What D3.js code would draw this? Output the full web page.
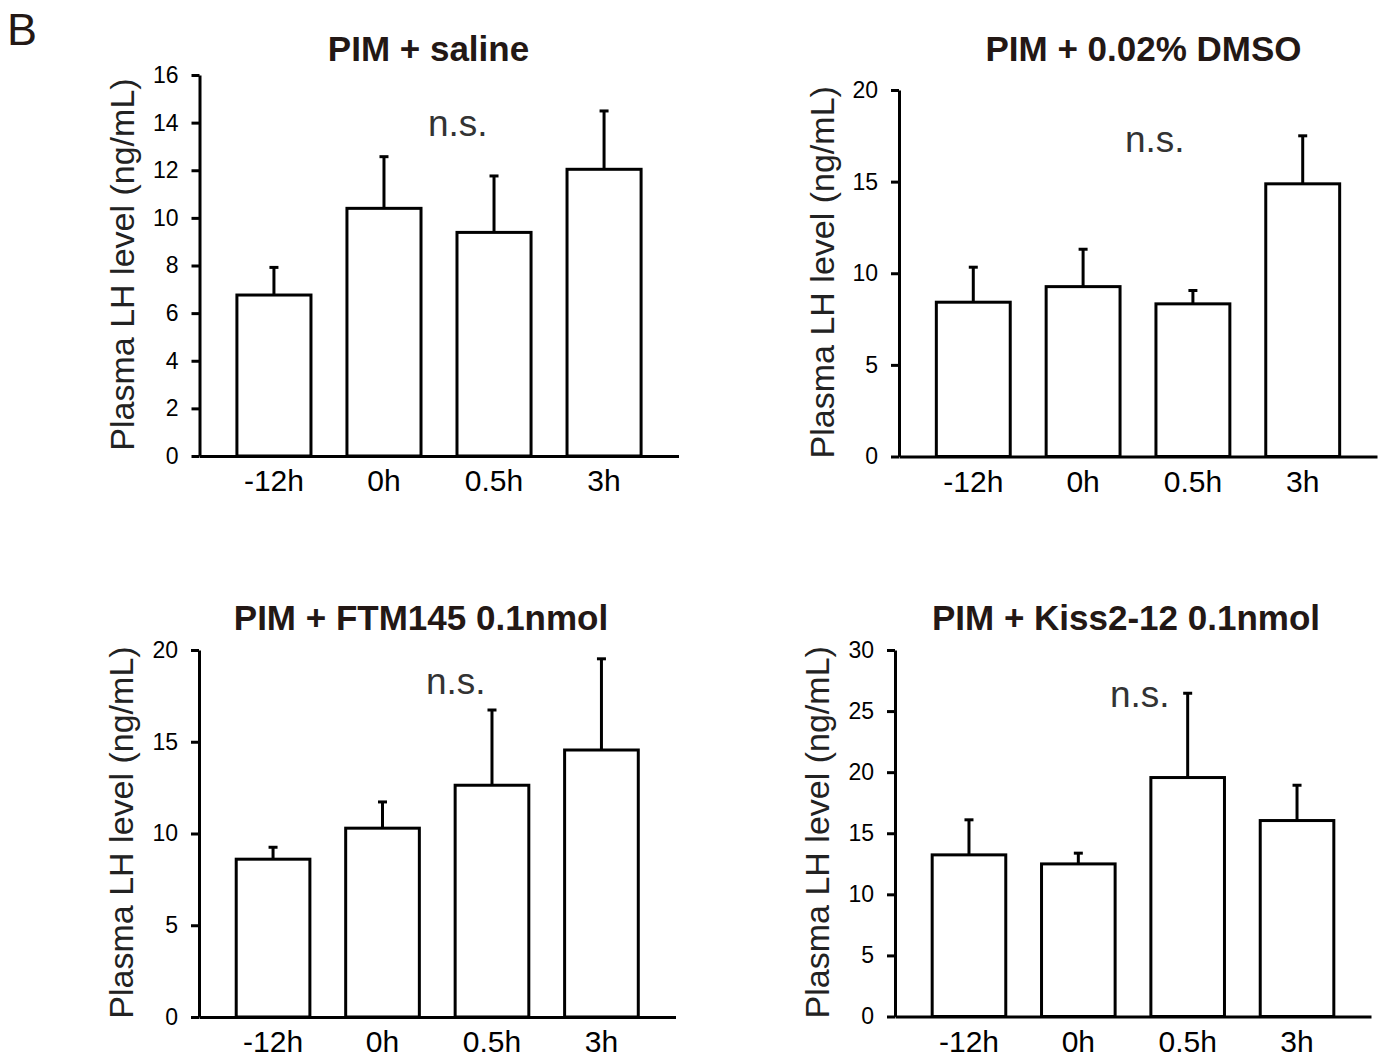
<!DOCTYPE html>
<html>
<head>
<meta charset="utf-8">
<script src="https://cdn.jsdelivr.net/npm/d3@7"></script>
<style>
  body { margin: 0; background: #fff; }
  svg { display: block; }
  text { font-family: "Liberation Sans", Arial, Helvetica, sans-serif; }
</style>
</head>
<body>
<div id="graf"></div>
<script>
// Datos
const categorias = ['-12h', '0h', '0.5h', '3h']
const titulos = ['PIM + saline', 'PIM + 0.02% DMSO', 'PIM + FTM145 0.1nmol', 'PIM + Kiss2-12 0.1nmol']

const mediaSaline = [6.76, 10.4, 9.39, 12.04]
const semSaline   = [1.16, 2.17, 2.37, 2.45]
const mediaDMSO   = [8.42, 9.27, 8.33, 14.88]
const semDMSO     = [1.91, 2.04, 0.73, 2.62]
const mediaFTM    = [8.6, 10.29, 12.63, 14.55]
const semFTM      = [0.65, 1.43, 4.1, 4.97]
const mediaKiss   = [13.23, 12.49, 19.56, 16.04]
const semKiss     = [2.87, 0.88, 6.9, 2.89]

const yMaximos = [16, 20, 20, 30]
const yPasos   = [2, 5, 5, 5]
const etiquetaY = 'Plasma LH level (ng/mL)'
const etiquetaNS = 'n.s.'

const medias = [mediaSaline, mediaDMSO, mediaFTM, mediaKiss]
const sems = [semSaline, semDMSO, semFTM, semKiss]

// Layout de cada panel (ejes, título, n.s.)
const paneles = [
  { left: 199.5, right: 678.5, top: 75,  bottom: 456,   tx: 428.5,  ty: 61,  nsx: 428,  nsy: 136, lx: 134 },
  { left: 899,   right: 1377,  top: 90,  bottom: 456.5, tx: 1143.5, ty: 61,  nsx: 1125, nsy: 152, lx: 834 },
  { left: 199,   right: 675.5, top: 650, bottom: 1017,  tx: 421,    ty: 630, nsx: 426,  nsy: 694, lx: 133 },
  { left: 895,   right: 1371,  top: 650, bottom: 1016.5,tx: 1126,   ty: 630, nsx: 1110, nsy: 707, lx: 829 }
]

const ancho_total = 1386
const alto_total = 1057
const negro = '#000'
const textoColor = '#231815'

const svg = d3.select('#graf').append('svg')
  .attr('width', ancho_total)
  .attr('height', alto_total)

// Letra del panel
svg.append('text')
  .attr('x', 7)
  .attr('y', 45)
  .attr('font-size', '45px')
  .attr('fill', textoColor)
  .text('B')

paneles.forEach((p, i) => {
  const g = svg.append('g')

  const x = d3.scaleBand()
    .domain(categorias)
    .range([p.left, p.right])
    .paddingInner(0.327)
    .paddingOuter(0.34)

  const y = d3.scaleLinear()
    .domain([0, yMaximos[i]])
    .range([p.bottom, p.top])

  const datos = categorias.map((c, j) => ({ cat: c, media: medias[i][j], sem: sems[i][j] }))

  // barras
  g.selectAll('rect.barra')
    .data(datos)
    .enter()
    .append('rect')
      .attr('class', 'barra')
      .attr('x', d => x(d.cat))
      .attr('y', d => y(d.media))
      .attr('width', x.bandwidth())
      .attr('height', d => y(0) - y(d.media))
      .attr('fill', '#fff')
      .attr('stroke', negro)
      .attr('stroke-width', 3)

  // barras de error (solo hacia arriba)
  const err = g.selectAll('g.err')
    .data(datos)
    .enter()
    .append('g')
      .attr('class', 'err')

  err.append('line')
    .attr('x1', d => x(d.cat) + x.bandwidth() / 2)
    .attr('x2', d => x(d.cat) + x.bandwidth() / 2)
    .attr('y1', d => y(d.media))
    .attr('y2', d => y(d.media + d.sem))
    .attr('stroke', negro)
    .attr('stroke-width', 3)

  err.append('line')
    .attr('x1', d => x(d.cat) + x.bandwidth() / 2 - 4.5)
    .attr('x2', d => x(d.cat) + x.bandwidth() / 2 + 4.5)
    .attr('y1', d => y(d.media + d.sem))
    .attr('y2', d => y(d.media + d.sem))
    .attr('stroke', negro)
    .attr('stroke-width', 3)

  // eje Y
  const ticks = d3.range(0, yMaximos[i] + 0.001, yPasos[i])
  const yAxisCall = d3.axisLeft(y)
    .tickValues(ticks)
    .tickSize(8)
    .tickSizeOuter(0)
    .tickPadding(13)
    .tickFormat(d3.format('d'))

  const yAxisGroup = g.append('g')
    .attr('transform', `translate(${p.left}, 0)`)
    .call(yAxisCall)
  yAxisGroup.select('.domain').attr('stroke', negro).attr('stroke-width', 3)
  yAxisGroup.selectAll('.tick line').attr('stroke', negro).attr('stroke-width', 3)
  yAxisGroup.selectAll('.tick text')
    .attr('font-size', '23px')
    .attr('font-family', '"Liberation Sans", Arial, sans-serif')
    .attr('fill', negro)

  // eje X
  const xAxisCall = d3.axisBottom(x).tickSize(0).tickSizeOuter(0)
  const xAxisGroup = g.append('g')
    .attr('transform', `translate(0, ${p.bottom})`)
    .call(xAxisCall)
  xAxisGroup.select('.domain').attr('stroke', negro).attr('stroke-width', 3)
  xAxisGroup.selectAll('.tick text')
    .attr('y', 35)
    .attr('dy', 0)
    .attr('font-size', '30px')
    .attr('font-family', '"Liberation Sans", Arial, sans-serif')
    .attr('fill', negro)

  // etiqueta eje Y
  g.append('text')
    .attr('transform', `translate(${p.lx}, ${(p.top + p.bottom) / 2 - 1}) rotate(-90)`)
    .attr('text-anchor', 'middle')
    .attr('font-size', '34px')
    .attr('fill', '#222')
    .text(etiquetaY)

  // título
  g.append('text')
    .attr('x', p.tx)
    .attr('y', p.ty)
    .attr('text-anchor', 'middle')
    .attr('font-size', '35px')
    .attr('font-weight', 'bold')
    .attr('fill', textoColor)
    .text(titulos[i])

  // n.s.
  g.append('text')
    .attr('x', p.nsx)
    .attr('y', p.nsy)
    .attr('font-size', '37px')
    .attr('fill', '#333')
    .text(etiquetaNS)
})
</script>
</body>
</html>
